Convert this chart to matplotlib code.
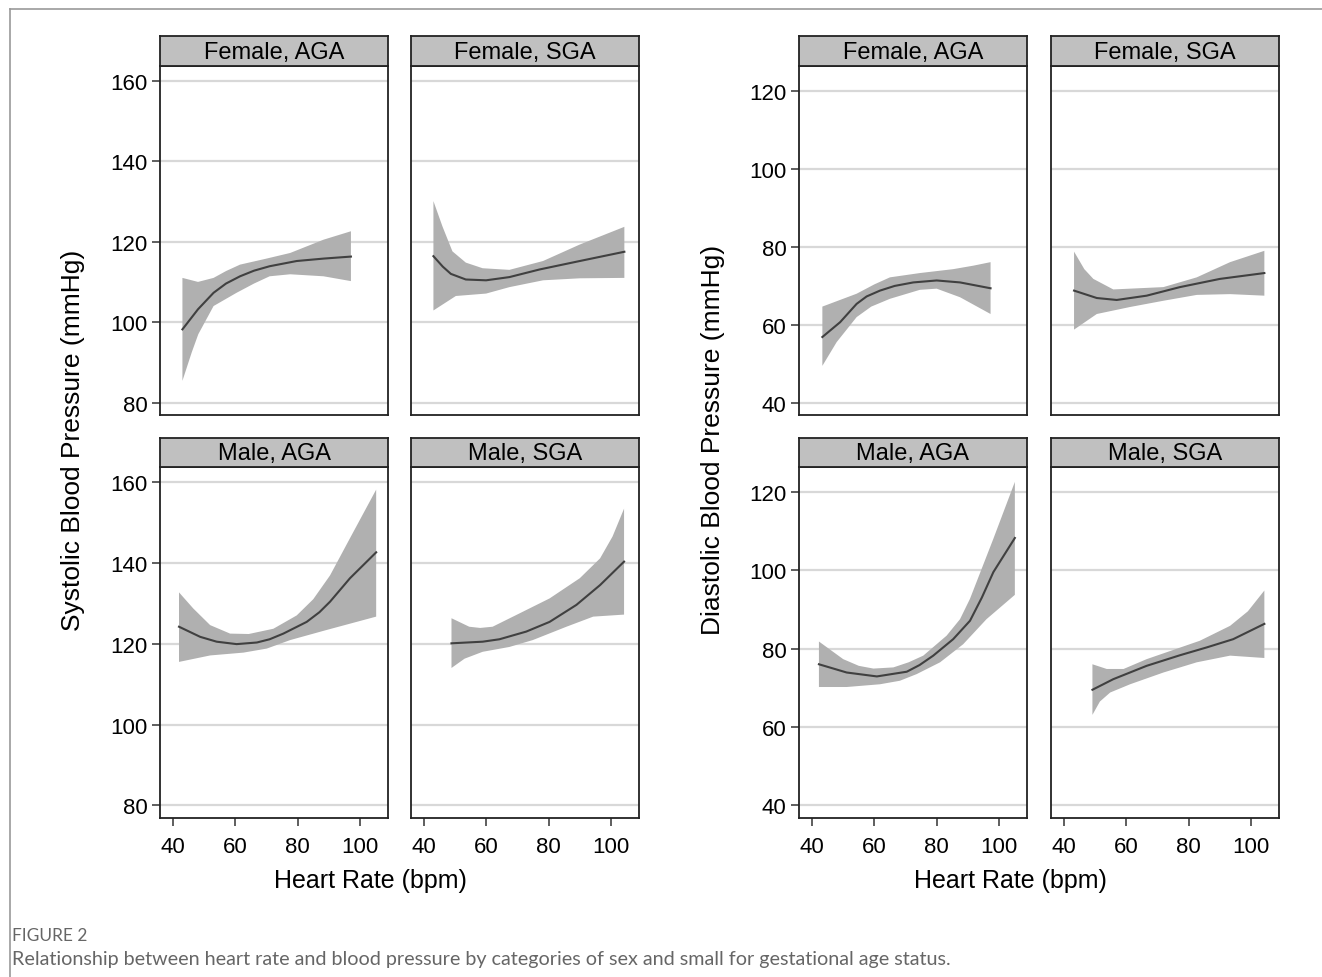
import matplotlib.pyplot as plt
from matplotlib.lines import Line2D

plt.rcParams['font.family'] = ['Liberation Sans', 'DejaVu Sans']

W, H = 1322, 978

titles = ['Female, AGA', 'Female, SGA', 'Male, AGA', 'Male, SGA']

# systolic: fitted line, upper and lower confidence limits as (heart rate, mmHg)
sbp_f_aga_fit = [(43, 98.2), (48, 103.2), (53, 107.3), (57, 109.6), (61.5, 111.4), (66, 112.8), (71, 113.9), (79.7, 115.2), (88.3, 115.8), (97.1, 116.3)]
sbp_f_aga_hi = [(43, 111.0), (48, 110.0), (53, 111.0), (57, 112.7), (61.5, 114.3), (70, 115.8), (77.6, 117.2), (88.3, 120.5), (97.1, 122.6)]
sbp_f_aga_lo = [(43, 85.4), (46, 92.5), (48.1, 97.0), (53, 104.0), (60.4, 107.3), (66, 109.6), (71, 111.4), (77.6, 111.9), (88.3, 111.4), (97.1, 110.2)]

sbp_f_sga_fit = [(43, 116.4), (46, 113.8), (48.6, 112.0), (53.4, 110.6), (59.9, 110.4), (67.4, 111.2), (77.1, 113.1), (90, 115.2), (104.3, 117.5)]
sbp_f_sga_hi = [(43, 130.1), (45.9, 123.8), (49.1, 117.6), (53.4, 114.8), (58.8, 113.4), (67.4, 113.0), (78.2, 115.2), (90, 119.3), (104.3, 123.7)]
sbp_f_sga_lo = [(43, 102.9), (50.2, 106.5), (59.9, 107.1), (67.4, 108.7), (78.2, 110.4), (90, 110.9), (104.3, 111.0)]

sbp_m_aga_fit = [(41.9, 124.2), (48.7, 121.7), (54, 120.5), (60.4, 119.9), (66.9, 120.3), (71, 121.1), (75.4, 122.5), (82.9, 125.4), (87, 127.8), (90.4, 130.4), (96.8, 136.2), (105.2, 142.6)]
sbp_m_aga_hi = [(41.9, 132.7), (46.5, 128.7), (51.9, 124.6), (58.3, 122.5), (64.3, 122.4), (72.2, 123.7), (79.7, 127.0), (85, 131.0), (90.4, 136.9), (96.8, 146.1), (105.2, 158.1)]
sbp_m_aga_lo = [(41.9, 115.5), (51.9, 117.1), (62.6, 117.8), (70.1, 118.8), (77.6, 120.9), (89.3, 123.4), (105.2, 126.7)]

sbp_m_sga_fit = [(48.8, 120.1), (58.8, 120.5), (64.2, 121.1), (72.8, 123.0), (80.3, 125.4), (88.9, 129.6), (96.5, 134.5), (104.2, 140.3)]
sbp_m_sga_hi = [(48.8, 126.3), (54.5, 124.2), (58, 123.9), (62, 124.2), (69.6, 127.1), (80.3, 131.2), (90, 136.2), (96.5, 141.1), (100.5, 146.5), (104.2, 153.4)]
sbp_m_sga_lo = [(48.8, 114.0), (53, 116.3), (58.8, 118.0), (67.4, 119.2), (74.9, 120.9), (85.7, 124.2), (94.3, 126.7), (104.2, 127.2)]

# diastolic
dbp_f_aga_fit = [(43.3, 56.8), (49, 60.6), (54.3, 65.3), (57.5, 67.2), (61.8, 68.7), (66.5, 69.9), (72.5, 70.8), (80, 71.3), (87.5, 70.8), (97.3, 69.3)]
dbp_f_aga_hi = [(43.3, 64.6), (54.3, 67.9), (60, 70.3), (65, 72.1), (74.6, 73.2), (85.3, 74.2), (91.8, 75.1), (97.3, 76.0)]
dbp_f_aga_lo = [(43.3, 49.4), (47.9, 55.5), (54.3, 61.9), (59, 64.6), (65, 66.6), (74.6, 68.9), (80, 69.2), (87.5, 67.0), (97.3, 62.7)]

dbp_f_sga_fit = [(43.2, 68.7), (50.5, 66.8), (56.9, 66.3), (66.5, 67.4), (77.2, 69.6), (90, 71.7), (104.3, 73.2)]
dbp_f_sga_hi = [(43.2, 78.7), (46.5, 74.2), (49.4, 71.7), (55.8, 69.0), (71.9, 69.6), (82.6, 72.1), (93.3, 76.0), (104.3, 78.9)]
dbp_f_sga_lo = [(43.2, 58.7), (50.5, 62.7), (61.2, 64.5), (71.9, 66.1), (82.6, 67.6), (93.3, 67.8), (104.3, 67.4)]

dbp_m_aga_fit = [(42.2, 76.0), (51.1, 73.9), (60.8, 72.9), (70.4, 74.1), (74.5, 75.8), (78.9, 78.2), (85.3, 82.4), (90.7, 87.1), (94.5, 93.0), (98.2, 99.5), (105.1, 108.2)]
dbp_m_aga_hi = [(42.2, 81.8), (50, 77.3), (55, 75.6), (59.7, 74.9), (66.1, 75.2), (71, 76.5), (75.7, 78.2), (83.2, 83.3), (87.5, 87.5), (90.7, 92.7), (98.2, 108.0), (105.1, 122.5)]
dbp_m_aga_lo = [(42.2, 70.2), (51.1, 70.2), (61.8, 70.9), (68.2, 71.8), (73.6, 73.5), (81.1, 76.5), (88.5, 81.1), (96, 87.5), (105.1, 93.7)]

dbp_m_sga_fit = [(49.1, 69.5), (55.8, 72.2), (66.5, 75.6), (77.2, 78.3), (85.8, 80.3), (94.3, 82.4), (104.3, 86.3)]
dbp_m_sga_hi = [(49.1, 76.0), (53.7, 74.8), (59.1, 74.8), (66.5, 77.3), (83.6, 82.0), (93.3, 85.8), (99, 89.5), (104.3, 94.8)]
dbp_m_sga_lo = [(49.1, 63.1), (51.5, 66.5), (54.8, 68.8), (61.2, 70.9), (71.9, 73.9), (82.6, 76.5), (93.3, 78.2), (104.3, 77.6)]

sbp_panels = [(sbp_f_aga_fit, sbp_f_aga_hi, sbp_f_aga_lo), (sbp_f_sga_fit, sbp_f_sga_hi, sbp_f_sga_lo),
              (sbp_m_aga_fit, sbp_m_aga_hi, sbp_m_aga_lo), (sbp_m_sga_fit, sbp_m_sga_hi, sbp_m_sga_lo)]
dbp_panels = [(dbp_f_aga_fit, dbp_f_aga_hi, dbp_f_aga_lo), (dbp_f_sga_fit, dbp_f_sga_hi, dbp_f_sga_lo),
              (dbp_m_aga_fit, dbp_m_aga_hi, dbp_m_aga_lo), (dbp_m_sga_fit, dbp_m_sga_hi, dbp_m_sga_lo)]

sbp_ticks = [80, 100, 120, 140, 160]
dbp_ticks = [40, 60, 80, 100, 120]
hr_ticks = [40, 60, 80, 100]

fig = plt.figure(figsize=(W / 100, H / 100), dpi=100)


def px_rect(x0, y0, x1, y1):
    return [x0 / W, 1 - y1 / H, (x1 - x0) / W, (y1 - y0) / H]


def draw_block(panels, col_x, yticks, ylim, ylabel, ylabel_x, xlabel_x):
    rows = [(37, 67, 416), (439, 468, 819)]
    for i, (fit, hi, lo) in enumerate(panels):
        r, c = divmod(i, 2)
        sy0, py0, py1 = rows[r]
        x0, x1 = col_x[c]
        ax = fig.add_axes(px_rect(x0, py0, x1, py1))
        ax.set_xlim(35.8, 109)
        ax.set_ylim(*ylim)
        for t in yticks:
            ax.axhline(t, color='#d8d8d8', lw=1.6, zorder=0)
        hx = [p[0] for p in hi] + [p[0] for p in lo][::-1]
        hy = [p[1] for p in hi] + [p[1] for p in lo][::-1]
        ax.fill(hx, hy, color='#b0b0b0', lw=0, zorder=1)
        ax.plot([p[0] for p in fit], [p[1] for p in fit], color='#404040', lw=1.5, zorder=2)
        ax.set_yticks(yticks)
        ax.set_xticks(hr_ticks)
        ax.tick_params(length=6, width=1.1, color='#333333', labelsize=16, pad=3)
        ax.tick_params(axis='x', pad=7)
        if c == 1:
            ax.tick_params(axis='y', length=0, labelleft=False)
        if r == 0:
            ax.tick_params(axis='x', length=0, labelbottom=False)
        for s in ax.spines.values():
            s.set_linewidth(1.3)
            s.set_color('#222222')
        # strip header
        sx = fig.add_axes(px_rect(x0, sy0, x1, py0))
        sx.set_facecolor('#c0c0c0')
        sx.set_xticks([])
        sx.set_yticks([])
        for s in sx.spines.values():
            s.set_linewidth(1.3)
            s.set_color('#222222')
        sx.text(0.5, 0.47, titles[i], ha='center', va='center', fontsize=17, transform=sx.transAxes)
    fig.text(ylabel_x / W, 1 - 440 / H, ylabel, rotation=90, ha='center', va='center', fontsize=19)
    fig.text(xlabel_x / W, 1 - 881 / H, 'Heart Rate (bpm)', ha='center', va='center', fontsize=18)


draw_block(sbp_panels, [(160, 388), (411, 639)], sbp_ticks, (76.9, 163.7),
           'Systolic Blood Pressure (mmHg)', 73, 370)
draw_block(dbp_panels, [(799, 1027), (1051, 1279)], dbp_ticks, (36.8, 126.3),
           'Diastolic Blood Pressure (mmHg)', 713, 1010)

# page frame (top and left edges)
fig.add_artist(Line2D([10 / W, 1], [1 - 10 / H, 1 - 10 / H], color='#999999', lw=1.2))
fig.add_artist(Line2D([10 / W, 10 / W], [0, 1 - 10 / H], color='#999999', lw=1.2))

fig.text(12 / W, 1 - 936 / H, 'FIGURE 2', ha='left', va='center', fontsize=12.5,
         color='#666666', family=['Lato', 'DejaVu Sans'])
fig.text(12 / W, 1 - 960 / H,
         'Relationship between heart rate and blood pressure by categories of sex and small for gestational age status.',
         ha='left', va='center', fontsize=14.2, color='#666666', family=['Lato', 'DejaVu Sans'])

fig.savefig('out.png', dpi=100)
